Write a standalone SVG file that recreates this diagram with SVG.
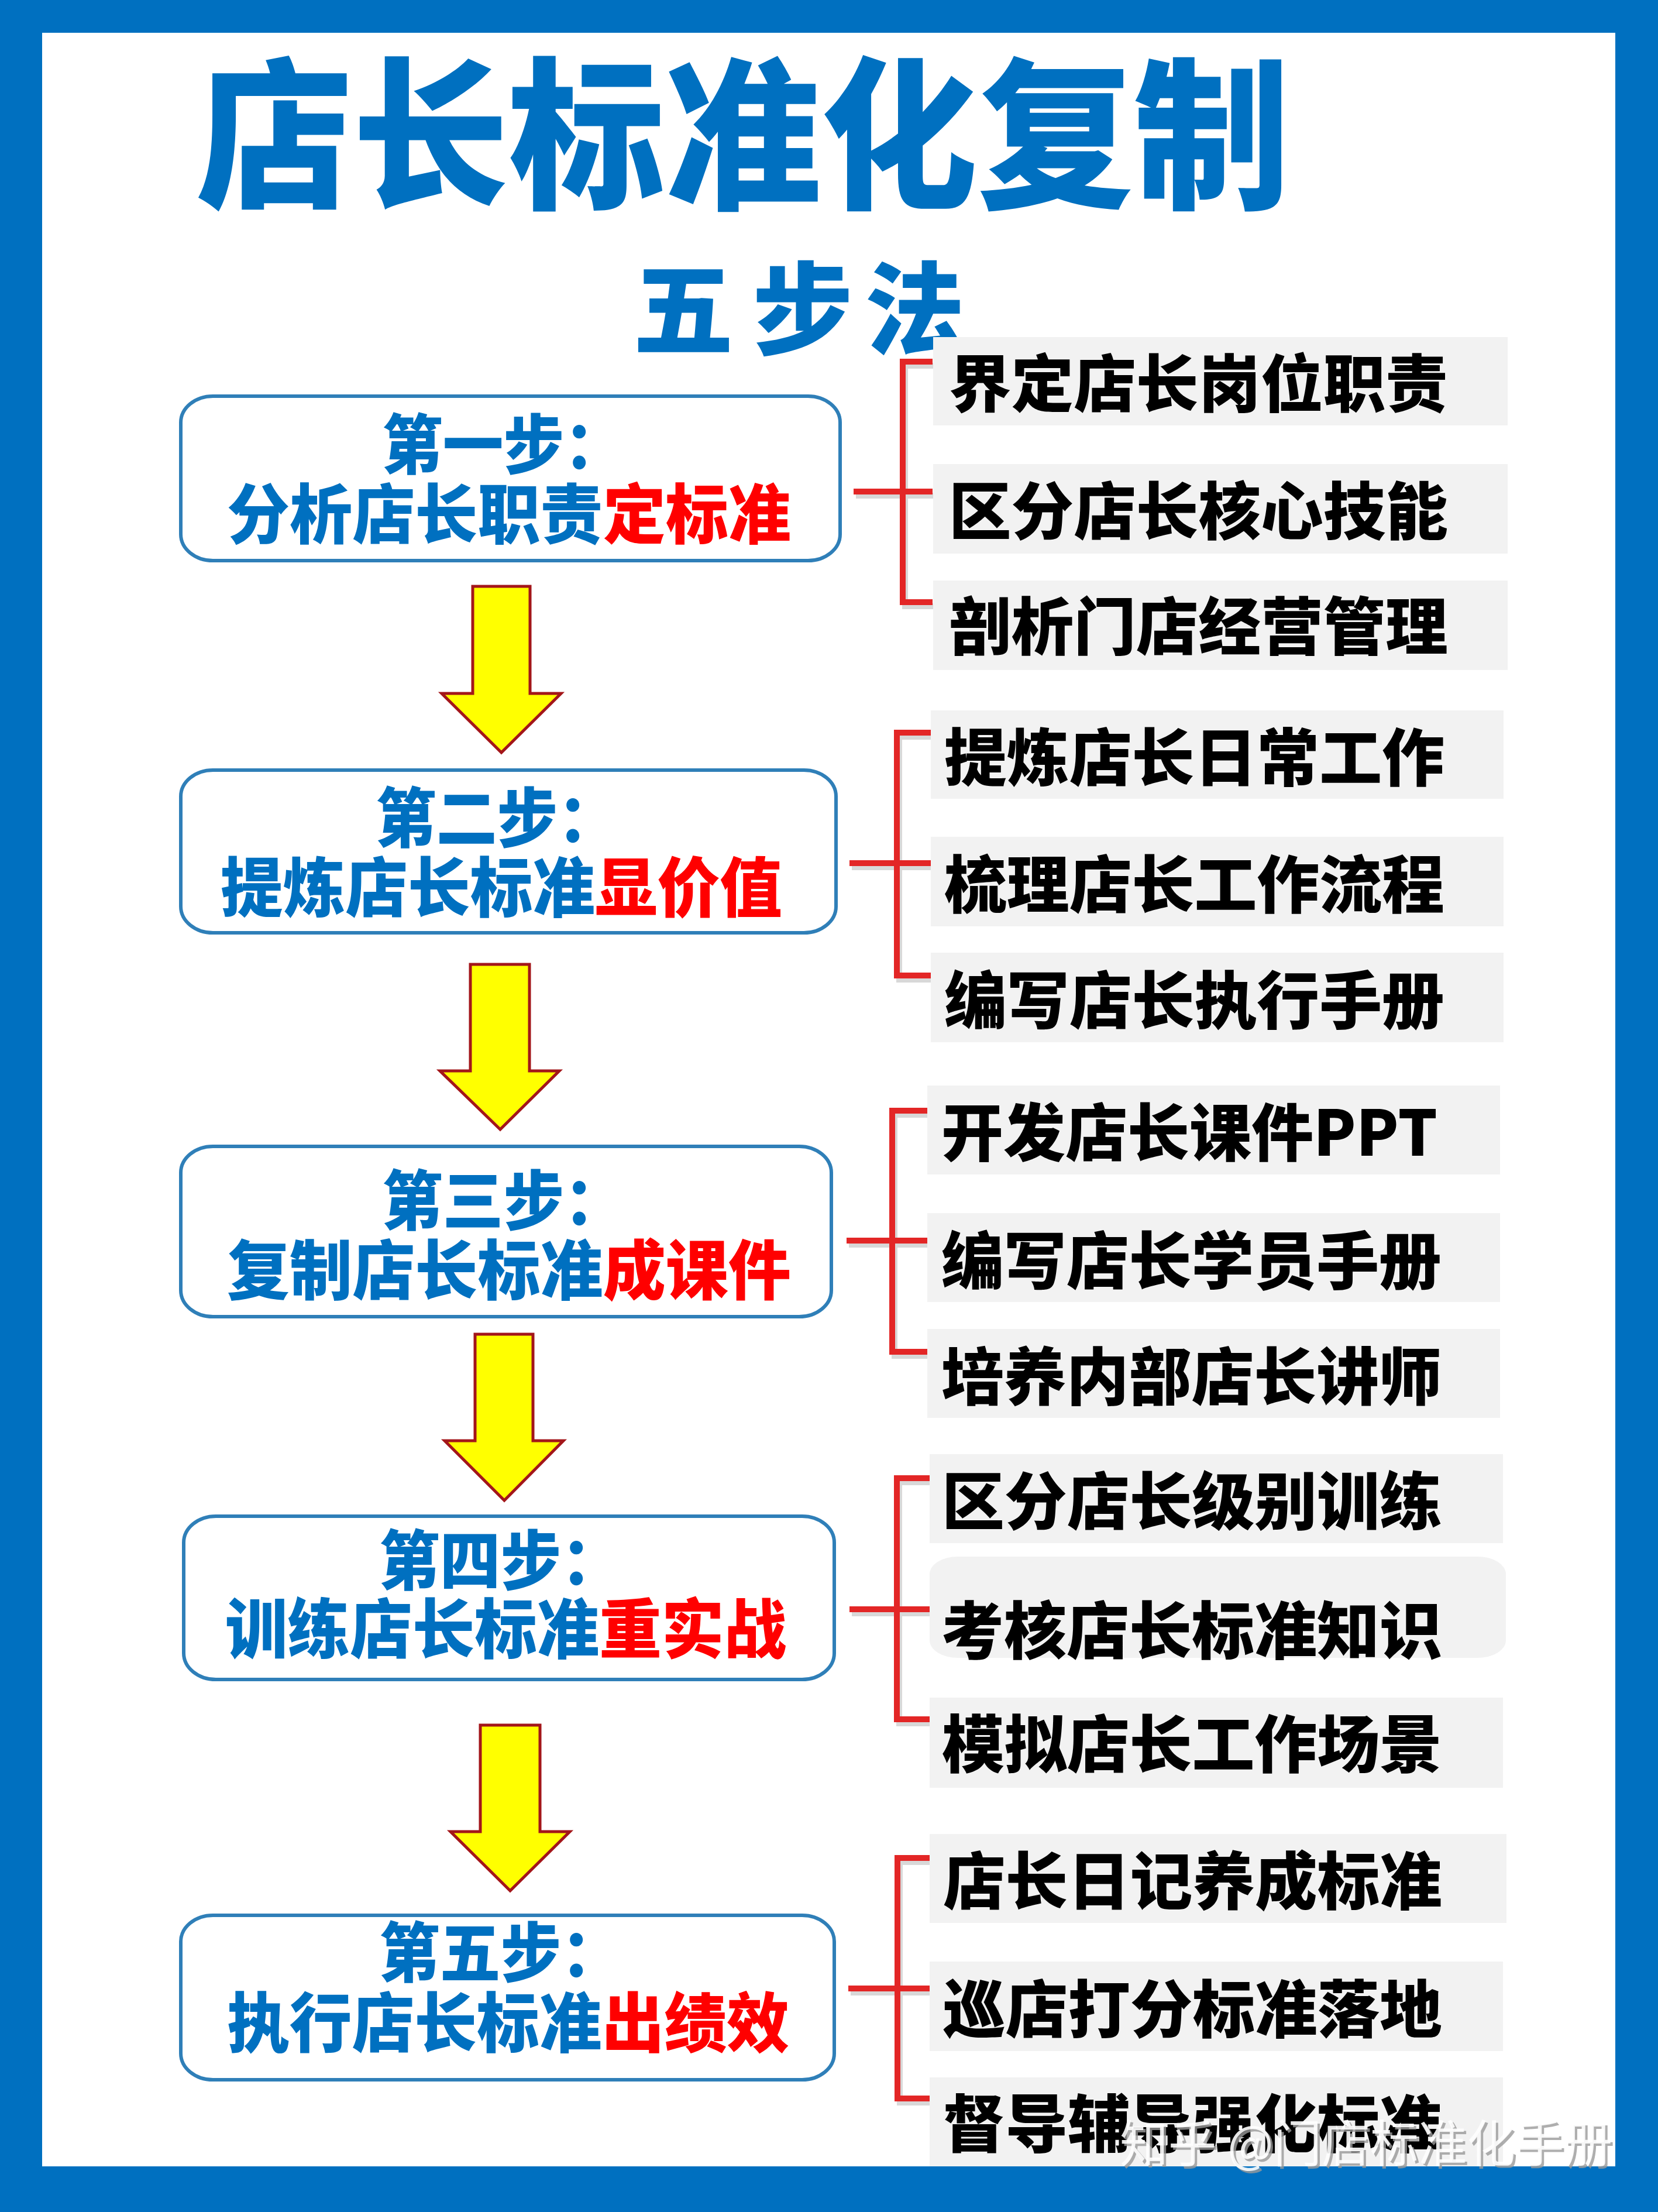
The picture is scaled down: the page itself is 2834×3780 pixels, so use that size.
<svg xmlns="http://www.w3.org/2000/svg" width="2834" height="3780" viewBox="0 0 2834 3780">
<style>
.cjk{font-family:"Noto Sans CJK SC","Noto Sans CJK JP",sans-serif;font-weight:900}
.title{fill:#0070C0;font-size:280px}
.sub{fill:#0070C0;font-size:172px}
.step{fill:#0070C0;font-size:111px}
.hl{fill:#FF0000}
.item{fill:#000000;font-size:107px}
.box{fill:#FFFFFF;stroke:#2F7FB8;stroke-width:6}
.card{fill:#F2F2F2}
.arrow{fill:#FFFF00;stroke:#A3161A;stroke-width:5;stroke-linejoin:miter}
.br{fill:none;stroke:#E32626;stroke-width:10;stroke-linejoin:miter}
.brs{fill:none;stroke:#B8B8B8;stroke-width:10;opacity:0.55}
.wm{font-family:"Noto Sans CJK SC",sans-serif;font-weight:400;font-size:86px}
</style>
<rect x="0" y="0" width="2834" height="3780" fill="#0070C0"/>
<rect x="72" y="56" width="2689" height="3646" fill="#FFFFFF"/>

<g id="title">
<text class="cjk title" x="335" y="335" textLength="1870" lengthAdjust="spacingAndGlyphs">店长标准化复制</text>
</g>
<g id="subtitle">
<text class="cjk sub" x="1082" y="592">五</text>
<text class="cjk sub" x="1286" y="592">步</text>
<text class="cjk sub" x="1478" y="592">法</text>
</g>

<g id="connectors">
<polygon class="arrow" points="808,1002 906,1002 906,1185 959,1185 857,1286 755,1185 808,1185"/>
<polygon class="arrow" points="804,1648 905,1648 905,1830 956,1830 855,1930 752,1830 804,1830"/>
<polygon class="arrow" points="812,2280 911,2280 911,2462 963,2462 862,2564 760,2462 812,2462"/>
<polygon class="arrow" points="821,2948 923,2948 923,3130 974,3130 872,3231 770,3130 821,3130"/>
<g transform="translate(4,7)">
<path class="brs" d="M1594,618 H1543 V1029 H1594 M1459,840 H1594"/>
<path class="brs" d="M1591,1252 H1533 V1667 H1591 M1452,1475 H1591"/>
<path class="brs" d="M1585,1898 H1525 V2310 H1585 M1447,2120 H1585"/>
<path class="brs" d="M1589,2526 H1533 V2938 H1589 M1452,2750 H1589"/>
<path class="brs" d="M1589,3175 H1534 V3586 H1589 M1450,3398 H1589"/>
</g>
<path class="br" d="M1594,618 H1543 V1029 H1594 M1459,840 H1594"/>
<path class="br" d="M1591,1252 H1533 V1667 H1591 M1452,1475 H1591"/>
<path class="br" d="M1585,1898 H1525 V2310 H1585 M1447,2120 H1585"/>
<path class="br" d="M1589,2526 H1533 V2938 H1589 M1452,2750 H1589"/>
<path class="br" d="M1589,3175 H1534 V3586 H1589 M1450,3398 H1589"/>
</g>

<g id="step1">
<rect class="box" x="309" y="677" width="1127" height="281" rx="55" ry="45"/>
<text class="cjk step" x="653" y="801" textLength="415" lengthAdjust="spacingAndGlyphs">第一步：</text>
<text class="cjk step" x="388" y="920" textLength="964" lengthAdjust="spacingAndGlyphs">分析店长职责<tspan class="hl">定标准</tspan></text>
</g>
<g id="step2">
<rect class="box" x="309" y="1316" width="1120" height="278" rx="55" ry="45"/>
<text class="cjk step" x="642" y="1439" textLength="415" lengthAdjust="spacingAndGlyphs">第二步：</text>
<text class="cjk step" x="377" y="1558" textLength="960" lengthAdjust="spacingAndGlyphs">提炼店长标准<tspan class="hl">显价值</tspan></text>
</g>
<g id="step3">
<rect class="box" x="309" y="1959" width="1112" height="291" rx="55" ry="45"/>
<text class="cjk step" x="653" y="2093" textLength="415" lengthAdjust="spacingAndGlyphs">第三步：</text>
<text class="cjk step" x="388" y="2212" textLength="964" lengthAdjust="spacingAndGlyphs">复制店长标准<tspan class="hl">成课件</tspan></text>
</g>
<g id="step4">
<rect class="box" x="314" y="2591" width="1112" height="279" rx="55" ry="45"/>
<text class="cjk step" x="648" y="2708" textLength="415" lengthAdjust="spacingAndGlyphs">第四步：</text>
<text class="cjk step" x="385" y="2825" textLength="959" lengthAdjust="spacingAndGlyphs">训练店长标准<tspan class="hl">重实战</tspan></text>
</g>
<g id="step5">
<rect class="box" x="309" y="3273" width="1117" height="281" rx="55" ry="45"/>
<text class="cjk step" x="648" y="3378" textLength="415" lengthAdjust="spacingAndGlyphs">第五步：</text>
<text class="cjk step" x="388" y="3498" textLength="961" lengthAdjust="spacingAndGlyphs">执行店长标准<tspan class="hl">出绩效</tspan></text>
</g>

<g id="item1-1"><rect class="card" x="1595" y="576" width="982" height="151"/><text class="cjk item" x="1622" y="695" textLength="853" lengthAdjust="spacingAndGlyphs">界定店长岗位职责</text></g>
<g id="item1-2"><rect class="card" x="1595" y="793" width="982" height="153"/><text class="cjk item" x="1622" y="913" textLength="853" lengthAdjust="spacingAndGlyphs">区分店长核心技能</text></g>
<g id="item1-3"><rect class="card" x="1595" y="992" width="982" height="153"/><text class="cjk item" x="1622" y="1110" textLength="853" lengthAdjust="spacingAndGlyphs">剖析门店经营管理</text></g>

<g id="item2-1"><rect class="card" x="1591" y="1214" width="979" height="151"/><text class="cjk item" x="1614" y="1334" textLength="855" lengthAdjust="spacingAndGlyphs">提炼店长日常工作</text></g>
<g id="item2-2"><rect class="card" x="1591" y="1430" width="979" height="153"/><text class="cjk item" x="1614" y="1551" textLength="855" lengthAdjust="spacingAndGlyphs">梳理店长工作流程</text></g>
<g id="item2-3"><rect class="card" x="1591" y="1628" width="979" height="153"/><text class="cjk item" x="1614" y="1749" textLength="855" lengthAdjust="spacingAndGlyphs">编写店长执行手册</text></g>

<g id="item3-1"><rect class="card" x="1585" y="1855" width="979" height="152"/><text class="cjk item" x="1609" y="1975" textLength="848" lengthAdjust="spacingAndGlyphs">开发店长课件PPT</text></g>
<g id="item3-2"><rect class="card" x="1585" y="2073" width="979" height="152"/><text class="cjk item" x="1609" y="2194" textLength="855" lengthAdjust="spacingAndGlyphs">编写店长学员手册</text></g>
<g id="item3-3"><rect class="card" x="1585" y="2271" width="979" height="152"/><text class="cjk item" x="1609" y="2392" textLength="855" lengthAdjust="spacingAndGlyphs">培养内部店长讲师</text></g>

<g id="item4-1"><rect class="card" x="1589" y="2485" width="980" height="152"/><text class="cjk item" x="1610" y="2605" textLength="855" lengthAdjust="spacingAndGlyphs">区分店长级别训练</text></g>
<g id="item4-2"><rect class="card" x="1589" y="2660" width="985" height="173" rx="48" ry="30"/><text class="cjk item" x="1609" y="2826" textLength="856" lengthAdjust="spacingAndGlyphs">考核店长标准知识</text></g>
<g id="item4-3"><rect class="card" x="1589" y="2901" width="980" height="154"/><text class="cjk item" x="1610" y="3020" textLength="855" lengthAdjust="spacingAndGlyphs">模拟店长工作场景</text></g>

<g id="item5-1"><rect class="card" x="1589" y="3134" width="986" height="152"/><text class="cjk item" x="1612" y="3254" textLength="853" lengthAdjust="spacingAndGlyphs">店长日记养成标准</text></g>
<g id="item5-2"><rect class="card" x="1589" y="3352" width="980" height="153"/><text class="cjk item" x="1612" y="3473" textLength="853" lengthAdjust="spacingAndGlyphs">巡店打分标准落地</text></g>
<g id="item5-3"><rect class="card" x="1589" y="3550" width="980" height="152"/><text class="cjk item" x="1612" y="3669" textLength="853" lengthAdjust="spacingAndGlyphs">督导辅导强化标准</text></g>

<g id="watermark">
<text class="wm" x="1918" y="3699" textLength="842" lengthAdjust="spacingAndGlyphs" fill="#9A9A9A" opacity="0.8">知乎 @门店标准化手册</text>
<text class="wm" x="1914" y="3695" textLength="842" lengthAdjust="spacingAndGlyphs" fill="#FFFFFF" opacity="0.9">知乎 @门店标准化手册</text>
</g>
</svg>
